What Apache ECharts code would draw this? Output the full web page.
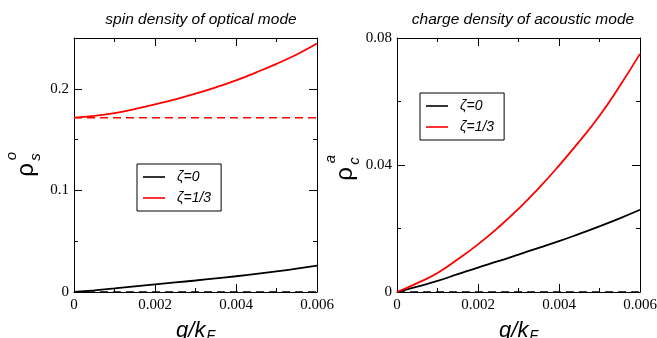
<!DOCTYPE html>
<html>
<head>
<meta charset="utf-8">
<script src="https://cdn.jsdelivr.net/npm/echarts@6/dist/echarts.min.js"></script>
<style>
html,body{margin:0;padding:0;background:#fff;}
#chart{width:657px;height:338px;}
</style>
</head>
<body>
<div id="chart"></div>
<script>
// ---- data ----
const qValues = [0, 0.0005, 0.001, 0.0015, 0.002, 0.0025, 0.003, 0.0035, 0.004, 0.0045, 0.005, 0.0055, 0.006];
// spin density of optical mode
const opticalZeta0 = [0, 0.0017, 0.0035, 0.0055, 0.0075, 0.0094, 0.0113, 0.0134, 0.0155, 0.0178, 0.0203, 0.023, 0.026];
const opticalZeta13 = [0.1716, 0.1733, 0.1761, 0.18, 0.1847, 0.1897, 0.1952, 0.2015, 0.2083, 0.2162, 0.2246, 0.2338, 0.2445];
const q0Ends = [0, 0.006];
const opticalZeta13Q0 = [0.1716, 0.1716];
const opticalZeta0Q0 = [0, 0];
// charge density of acoustic mode
const acousticZeta0 = [0, 0.0017, 0.0035, 0.0056, 0.0077, 0.0097, 0.0118, 0.0139, 0.016, 0.0183, 0.0207, 0.0232, 0.0259];
const acousticZeta13 = [0, 0.0028, 0.006, 0.0103, 0.015, 0.0203, 0.0262, 0.0327, 0.0398, 0.0474, 0.0555, 0.0649, 0.075];
const acousticZeta0Q0 = [0, 0];
const legendNames = ['ζ=0', 'ζ=1/3'];
const titles = ['spin density of optical mode', 'charge density of acoustic mode'];
const xTicks = [0, 0.002, 0.004, 0.006];
const leftYTicks = [0, 0.1, 0.2];
const rightYTicks = [0, 0.04, 0.08];

const pairs = (xs, ys) => xs.map((x, i) => [x, ys[i]]);

const serif = 'Liberation Serif';
const sans = 'Liberation Sans';
const black = '#000';
const red = '#ff0000';

const onTick = (list, v) => list.some(t => Math.abs(t - v) < 1e-9);

function xAxes(gridIndex) {
  const base = {
    type: 'value', gridIndex, min: 0, max: 0.006, interval: 0.002,
    axisLine: { show: true, onZero: false, lineStyle: { color: black, width: 1 } },
    axisTick: { show: true, inside: true, length: 8, lineStyle: { color: black } },
    minorTick: { show: true, splitNumber: 2, length: 4, lineStyle: { color: black } },
    splitLine: { show: false }, minorSplitLine: { show: false }
  };
  return [
    Object.assign({}, base, {
      position: 'bottom',
      axisLabel: { show: true, color: black, fontFamily: serif, fontSize: 15, margin: 6,
        formatter: v => onTick(xTicks, v) ? String(v) : '' },
      name: '{a|q/k}{b|F}', nameLocation: 'middle', nameGap: 28,
      nameTextStyle: {
        rich: {
          a: { fontFamily: sans, fontStyle: 'italic', fontSize: 22, color: black, lineHeight: 26, verticalAlign: 'top' },
          b: { fontFamily: sans, fontStyle: 'italic', fontSize: 14, color: black, lineHeight: 14, padding: [9, 0, 0, 1], verticalAlign: 'top' }
        }
      }
    }),
    Object.assign({}, base, { position: 'top', axisLabel: { show: false } })
  ];
}

// main y axes: major ticks (+ labels on the left)
function yAxes(gridIndex, max, majorInt, ticks, withMinor) {
  const common = {
    type: 'value', gridIndex, min: 0, max, interval: majorInt, splitLine: { show: false },
    axisLine: { show: true, onZero: false, lineStyle: { color: black, width: 1 } },
    axisTick: { show: true, inside: true, length: 8, lineStyle: { color: black } },
    minorTick: { show: withMinor, splitNumber: 2, length: 4, lineStyle: { color: black } },
    minorSplitLine: { show: false }
  };
  return [
    Object.assign({}, common, { position: 'left',
      axisLabel: { show: true, color: black, fontFamily: serif, fontSize: 15, margin: 5,
        showMaxLabel: true, formatter: v => onTick(ticks, v) ? String(+v.toFixed(3)) : '' } }),
    Object.assign({}, common, { position: 'right', axisLabel: { show: false } })
  ];
}

// overlay grid axes for minor ticks only
function minorYAxes(gridIndex, max, minorInt) {
  const common = {
    type: 'value', gridIndex, min: 0, max, interval: minorInt, splitLine: { show: false },
    axisLine: { show: false }, axisLabel: { show: false },
    axisTick: { show: true, inside: true, length: 4, lineStyle: { color: black } }
  };
  return [Object.assign({}, common, { position: 'left' }), Object.assign({}, common, { position: 'right' })];
}

const chart = echarts.init(document.getElementById('chart'), null, { renderer: 'canvas' });

const legendCommon = {
  orient: 'vertical', data: legendNames, borderColor: black, borderWidth: 1, borderRadius: 0,
  backgroundColor: '#fff', padding: [6, 10, 6, 6], itemWidth: 22, itemHeight: 14, itemGap: 7,
  selectedMode: false, icon: 'path://M0,0H22V1.6H0Z',
  textStyle: { fontFamily: sans, fontStyle: 'italic', fontSize: 14, color: black, padding: [0, 0, 0, 7] }
};

const lineSeries = (name, xi, yi, data, color, dashed) => ({
  type: 'line', name, xAxisIndex: xi, yAxisIndex: yi, data, symbol: 'none', showSymbol: false,
  smooth: !dashed, animation: false,
  lineStyle: { color, width: dashed ? 1.5 : 1.8, type: dashed ? [8, 5] : 'solid' },
  itemStyle: { color }, z: dashed ? 2 : 3
});

const gridBox = { top: 38, bottom: 46, containLabel: false, outerBoundsMode: 'none' };

const option = {
  backgroundColor: '#fff',
  animation: false,
  title: [
    { text: titles[0], left: 196, top: 7, textAlign: 'center',
      textStyle: { fontFamily: sans, fontStyle: 'italic', fontWeight: 'normal', fontSize: 15.5, color: black } },
    { text: titles[1], left: 518, top: 7, textAlign: 'center',
      textStyle: { fontFamily: sans, fontStyle: 'italic', fontWeight: 'normal', fontSize: 15.5, color: black } }
  ],
  grid: [
    Object.assign({ left: 74, right: 340 }, gridBox),
    Object.assign({ left: 397, right: 17 }, gridBox),
    Object.assign({ left: 74, right: 340 }, gridBox)
  ],
  legend: [
    Object.assign({}, legendCommon, { left: 137, top: 164 }),
    Object.assign({}, legendCommon, { left: 420, top: 93 })
  ],
  xAxis: [].concat(xAxes(0), xAxes(1), [{ type: 'value', gridIndex: 2, min: 0, max: 0.006, show: false }]),
  yAxis: [].concat(
    yAxes(0, 0.25, 0.1, leftYTicks, false),
    yAxes(1, 0.08, 0.04, rightYTicks, true),
    minorYAxes(2, 0.25, 0.05)
  ),
  graphic: [
    { type: 'group', x: 26, y: 170, rotation: Math.PI / 2, children: [
      { type: 'text', x: 0, y: 0, style: { text: 'ρ', fontFamily: sans, fontSize: 24, fill: black, align: 'center', verticalAlign: 'middle' } },
      { type: 'text', x: 13, y: 10, style: { text: 's', fontFamily: sans, fontStyle: 'italic', fontSize: 15, fill: black, align: 'center', verticalAlign: 'middle' } },
      { type: 'text', x: 14, y: -14, style: { text: 'o', fontFamily: sans, fontStyle: 'italic', fontSize: 15, fill: black, align: 'center', verticalAlign: 'middle' } }
    ]},
    { type: 'group', x: 345, y: 174, rotation: Math.PI / 2, children: [
      { type: 'text', x: 0, y: 0, style: { text: 'ρ', fontFamily: sans, fontSize: 24, fill: black, align: 'center', verticalAlign: 'middle' } },
      { type: 'text', x: 13, y: 10, style: { text: 'c', fontFamily: sans, fontStyle: 'italic', fontSize: 15, fill: black, align: 'center', verticalAlign: 'middle' } },
      { type: 'text', x: 15, y: -14, style: { text: 'a', fontFamily: sans, fontStyle: 'italic', fontSize: 15, fill: black, align: 'center', verticalAlign: 'middle' } }
    ]}
  ],
  series: [
    lineSeries('ζ=0 (q→0)', 0, 0, pairs(q0Ends, opticalZeta0Q0), black, true),
    lineSeries('ζ=1/3 (q→0)', 0, 0, pairs(q0Ends, opticalZeta13Q0), red, true),
    lineSeries(legendNames[0], 0, 0, pairs(qValues, opticalZeta0), black, false),
    lineSeries(legendNames[1], 0, 0, pairs(qValues, opticalZeta13), red, false),
    lineSeries('ζ=0 acoustic (q→0)', 2, 2, pairs(q0Ends, acousticZeta0Q0), black, true),
    lineSeries(legendNames[0], 2, 2, pairs(qValues, acousticZeta0), black, false),
    lineSeries(legendNames[1], 2, 2, pairs(qValues, acousticZeta13), red, false)
  ]
};
chart.setOption(option);
</script>
</body>
</html>
